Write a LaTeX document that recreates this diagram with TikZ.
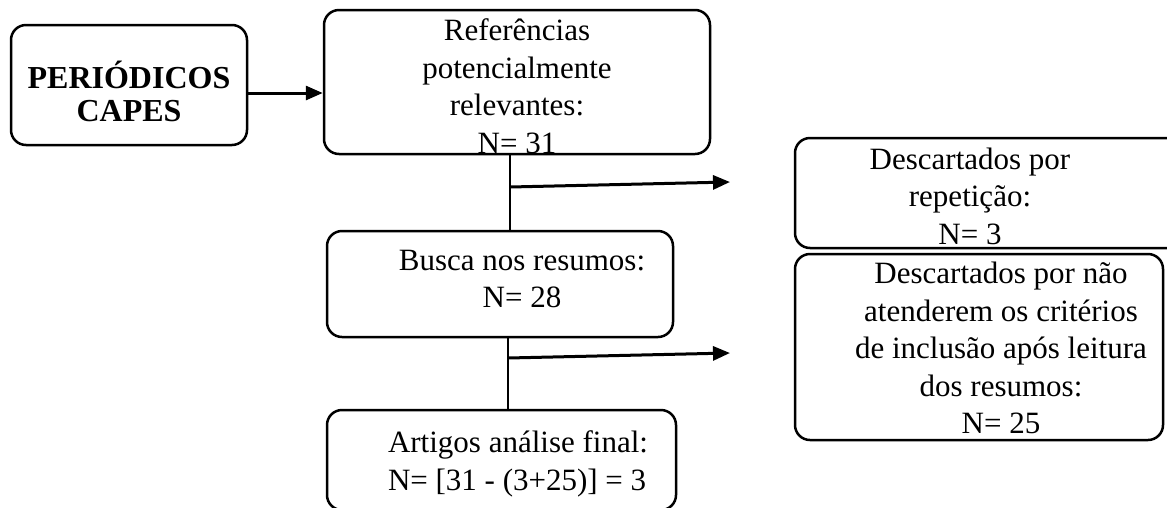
\documentclass[tikz,border=0pt]{standalone}
\usepackage{fontspec}
\setmainfont{Liberation Serif}
\usetikzlibrary{arrows.meta}

\begin{document}
\begin{tikzpicture}[x=1pt,y=-1pt,
		caixa/.style={draw,line width=2.5pt,rounded corners=15pt,inner sep=0pt},
		texto/.style={align=center,inner sep=0pt,font=\fontsize{31}{37.5}\selectfont},
		seta/.style={line width=3pt,-{Triangle[length=17pt,width=14pt]}},
		linha/.style={line width=1.5pt}]
	% moldura
	\useasboundingbox (0,0) rectangle (1167,507);
	\clip (0,0) rectangle (1167,507);
	
	% caixas da coluna central
	\node[caixa,minimum width=236pt,minimum height=120pt] (capes) at (129,85) {};
	\node[caixa,minimum width=386pt,minimum height=144pt] (ref) at (517,82) {};
	\node[caixa,minimum width=346pt,minimum height=106pt] (busca) at (500,284) {};
	\node[caixa,minimum width=349pt,minimum height=100pt] (artigos) at (501.5,460) {};
	
	% caixas dos descartados
	\node[caixa,minimum width=395pt,minimum height=110pt] (rep) at (992.5,193) {};
	\node[caixa,minimum width=368pt,minimum height=186pt] (nao) at (979,347) {};
	
	% textos
	\node[texto,font=\fontsize{32}{33}\selectfont\bfseries] (capes-t) at (129,91) {PERIÓDICOS\\CAPES};
	\node[texto] (ref-t) at (517,86) {Referências\\potencialmente\\relevantes:\\N= 31};
	\node[texto] (busca-t) at (522,279) {Busca nos resumos:\\N= 28};
	\node[texto,align=left] (artigos-t) at (518,464) {Artigos análise final:\\N= [31 - (3+25)] = 3};
	\node[texto] (rep-t) at (970,196) {Descartados por\\repetição:\\N= 3};
	\node[texto] (nao-t) at (1001,348) {Descartados por não\\atenderem os critérios\\de inclusão após leitura\\dos resumos:\\N= 25};
	
	% pontos de saida
	\coordinate (c1) at (510,187);
	\coordinate (c2) at (508,358);
	\coordinate (t1) at (730,182);
	\coordinate (t2) at (730,353);
	
	% ligacoes
	\draw[seta] ([yshift=-8pt]capes.east) -- ([yshift=-8pt]capes.east -| ref.west);
	\draw[linha] (ref.south -| c1) -- (busca.north -| c1);
	\draw[linha] (busca.south -| c2) -- (artigos.north -| c2);
	\draw[seta] (c1) -- (t1);
	\draw[seta] (c2) -- (t2);
	
\end{tikzpicture}
\end{document}
